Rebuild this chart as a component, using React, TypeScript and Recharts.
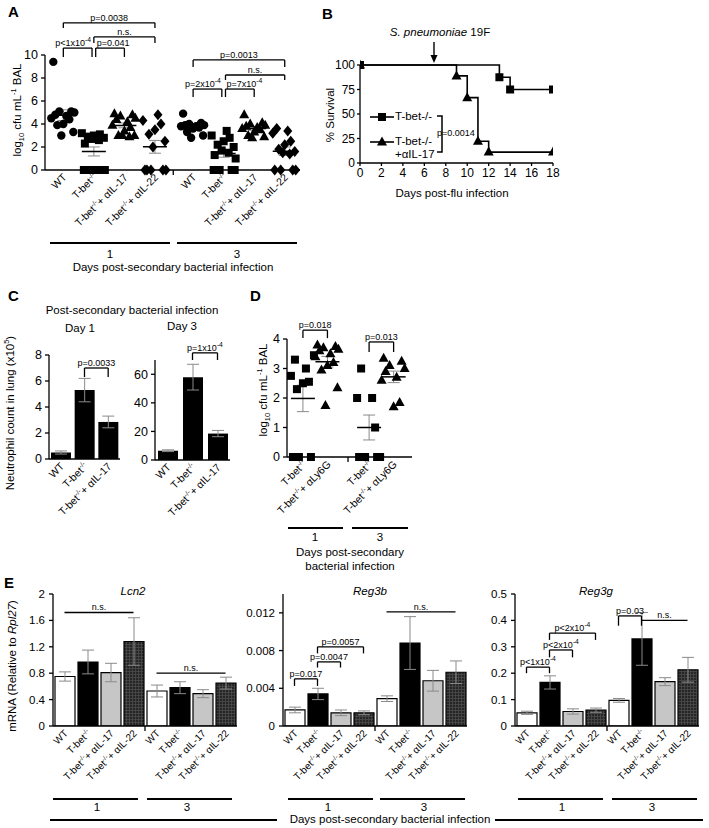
import React from 'react'
import {
  ScatterChart, Scatter, LineChart, Line, BarChart, Bar, Cell,
  XAxis, YAxis, ErrorBar, ReferenceLine,
} from 'recharts'

const FONT = '"Liberation Sans", Arial, Helvetica, sans-serif'
const AXIS = { stroke: '#000', strokeWidth: 1.3 }
const ERR = '#8a8a8a'

// ---------- A: log10 cfu per group (individual mice) ----------
const A_LABELS = ['WT', 'T-bet{-/-}', 'T-bet{-/-}+ αIL-17', 'T-bet{-/-}+ αIL-22']
const A_SHAPES = ['circle', 'square', 'triangle', 'diamond']
const A_D1_WT = [9.4, 5.1, 5.1, 5.0, 4.8, 4.7, 4.5, 4.4, 4.0, 3.9, 3.3, 3.0]
const A_D1_TBET = [0, 0, 0, 0, 0, 0, 3.2, 3.1, 3.0, 2.9, 2.8, 2.7, 2.6, 2.3]
const A_D1_IL17 = [4.9, 4.8, 4.7, 4.5, 4.4, 4.2, 3.9, 3.7, 3.4, 3.0, 3.0, 3.0, 2.9]
const A_D1_IL22 = [0, 0, 0, 0, 0, 4.8, 4.3, 4.0, 3.5, 3.1, 2.5, 2.0]
const A_D3_WT = [4.9, 4.1, 4.0, 3.9, 3.9, 3.8, 3.8, 3.7, 3.6, 3.3, 3.0, 2.8]
const A_D3_TBET = [0, 0, 0, 0, 0, 3.4, 3.0, 2.8, 2.5, 2.2, 2.0, 1.7, 1.5, 1.3, 1.0]
const A_D3_IL17 = [4.8, 4.1, 4.0, 3.9, 3.8, 3.7, 3.6, 3.5, 3.3, 3.0, 2.9, 2.8]
const A_D3_IL22 = [0, 0, 0, 0, 3.6, 3.4, 3.2, 2.5, 2.2, 1.8, 1.6, 1.5, 1.4]
const A_YTICKS = [0, 2, 4, 6, 8, 10]

// ---------- B: survival ----------
const B_DAYS_TBET = [0, 13, 14, 18]
const B_SURV_TBET = [100, 87.5, 75, 75]
const B_DAYS_IL17 = [0, 9, 10, 11, 12, 18]
const B_SURV_IL17 = [100, 88.9, 66.7, 22.2, 11.1, 11.1]
const B_XTICKS = [0, 2, 4, 6, 8, 10, 12, 14, 16, 18]
const B_YTICKS = [0, 25, 50, 75, 100]

// ---------- C: neutrophils ----------
const C_LABELS = ['WT', 'T-bet{-/-}', 'T-bet{-/-}+ αIL-17']
const C_DAY1 = [0.5, 5.3, 2.85]
const C_DAY1_ERR = [0.12, 0.9, 0.45]
const C_DAY3 = [6.5, 58, 18.5]
const C_DAY3_ERR = [0.6, 9, 2.2]

// ---------- D: neutrophil depletion ----------
const D_LABELS = ['T-bet{-/-}', 'T-bet{-/-}+ αLy6G']
const D_SHAPES = ['square', 'triangle']
const D_D1_TBET = [0, 0, 0, 3.45, 3.3, 3.0, 2.75, 2.55, 2.5, 2.3]
const D_D1_LY6G = [3.8, 3.75, 3.7, 3.65, 3.6, 3.5, 3.4, 3.2, 3.1, 2.95, 2.35, 1.75]
const D_D3_TBET = [0, 0, 0, 0, 3.0, 2.0, 2.0, 1.0]
const D_D3_LY6G = [3.35, 3.25, 3.1, 3.0, 2.9, 2.7, 2.6, 1.85, 1.7]

// ---------- E: mRNA ----------
const E_LABELS = ['WT', 'T-bet{-/-}', 'T-bet{-/-}+ αIL-17', 'T-bet{-/-}+ αIL-22']
const E_DAYS = [1, 3]
const E_LCN2 = [0.75, 0.97, 0.81, 1.28, 0.53, 0.58, 0.49, 0.65]
const E_LCN2_ERR = [0.07, 0.18, 0.14, 0.36, 0.09, 0.09, 0.06, 0.09]
const E_REG3B = [0.0017, 0.0034, 0.0014, 0.0014, 0.0029, 0.0088, 0.0048, 0.0057]
const E_REG3B_ERR = [0.0003, 0.0006, 0.0003, 0.0002, 0.0003, 0.0028, 0.0011, 0.0012]
const E_REG3G = [0.05, 0.165, 0.055, 0.06, 0.097, 0.33, 0.168, 0.213]
const E_REG3G_ERR = [0.006, 0.025, 0.01, 0.008, 0.007, 0.1, 0.015, 0.047]

// jitter (px) for dot plots
const JIT = [-10, 8, -4, 11, -8, 3, -12, 6, 0, -6, 10, -2, 5, -9, 12, 1]

const mean = (v: number[]) => v.reduce((s, x) => s + x, 0) / v.length
const sem = (v: number[]) => {
  const m = mean(v)
  return Math.sqrt(v.reduce((s, x) => s + (x - m) ** 2, 0) / (v.length - 1) / v.length)
}

// "T-bet{-/-}" -> superscript inside svg text
function richSvg(label: string, supSize: number) {
  const parts = label.split(/(\{[^}]*\})/).filter(Boolean)
  let raised = false
  return parts.map((p, i) => {
    if (p.startsWith('{')) {
      raised = true
      return <tspan key={i} fontSize={supSize} dy={-supSize * 0.6}>{p.slice(1, -1)}</tspan>
    }
    const dy = raised ? supSize * 0.6 : 0
    raised = false
    return <tspan key={i} dy={dy}>{p}</tspan>
  })
}

function marker(kind: string, x: number, y: number) {
  if (kind === 'circle') return <circle cx={x} cy={y} r={4.2} fill="#000" />
  if (kind === 'square') return <rect x={x - 4} y={y - 4} width={8} height={8} fill="#000" />
  if (kind === 'triangle') return <polygon points={`${x},${y - 5.5} ${x - 5},${y + 3.5} ${x + 5},${y + 3.5}`} fill="#000" />
  return <polygon points={`${x},${y - 5.5} ${x + 4.5},${y} ${x},${y + 5.5} ${x - 4.5},${y}`} fill="#000" />
}

const meanShape = (p: any) => (
  <line x1={p.cx - 12} x2={p.cx + 12} y1={p.cy} y2={p.cy} stroke="#000" strokeWidth={1.5} />
)

// rotated category label tick, with optional separator tick
const CatTick = (props: any) => {
  const { x, y, payload, names, sep, sepAfter, sepHalf = 11.5, fs = 10.5 } = props
  if (sep !== undefined && payload.value === sep) {
    return <line x1={x} x2={x} y1={y} y2={y + 5} stroke="#000" strokeWidth={1.3} />
  }
  const name = names(payload.value)
  const ax = x + 4
  const ay = y + 8
  return (
    <g>
      {sepAfter !== undefined && payload.value === sepAfter && (
        <line x1={x + sepHalf} x2={x + sepHalf} y1={y} y2={y + 5} stroke="#000" strokeWidth={1.3} />
      )}
      <text x={ax} y={ay} transform={`rotate(-45 ${ax} ${ay})`} textAnchor="end" fontSize={fs} fill="#000">
        {richSvg(name, fs * 0.65)}
      </text>
    </g>
  )
}

const pLabel = (text: string, fs: number, align: string) => (props: any) => {
  const vb = props.viewBox || {}
  const x0 = vb.x ?? 0
  const w = vb.width ?? 0
  const tx = align === 'end' ? x0 + w - 1 : align === 'start' ? x0 + 1 : x0 + w / 2
  return (
    <text x={tx} y={(vb.y ?? 0) - 2} textAnchor={align} fontSize={fs} fill="#000">
      {richSvg(text, fs * 0.75)}
    </text>
  )
}

function bracket(key: string, x1: any, x2: any, yTop: number, yLeg: number | null, text: string, align = 'middle', fs = 9) {
  const els = [
    <ReferenceLine key={key + 't'} segment={[{ x: x1, y: yTop }, { x: x2, y: yTop }]} stroke="#000"
      strokeWidth={1.3} ifOverflow="visible" label={pLabel(text, fs, align)} />,
  ]
  if (yLeg !== null) {
    els.push(<ReferenceLine key={key + 'l'} segment={[{ x: x1, y: yTop }, { x: x1, y: yLeg }]} stroke="#000" strokeWidth={1.3} ifOverflow="visible" />)
    els.push(<ReferenceLine key={key + 'r'} segment={[{ x: x2, y: yTop }, { x: x2, y: yLeg }]} stroke="#000" strokeWidth={1.3} ifOverflow="visible" />)
  }
  return els
}

// html overlays
const T = ({ x, y, children, size = 11.5, rot = 0, anchor = 'middle', style }: any) => {
  const tx = anchor === 'middle' ? '-50%' : anchor === 'start' ? '0' : '-100%'
  return (
    <div style={{
      position: 'absolute', left: x, top: y, transform: `translate(${tx}, -50%) rotate(${rot}deg)`,
      fontSize: size, whiteSpace: 'nowrap', lineHeight: 1, ...style,
    }}>{children}</div>
  )
}
const HL = ({ x1, x2, y, w = 1.6 }: any) => (
  <div style={{ position: 'absolute', left: x1, top: y - w / 2, width: x2 - x1, height: w, background: '#000' }} />
)
const Letter = ({ x, y, c }: any) => <T x={x} y={y} size={15} anchor="start" style={{ fontWeight: 'bold' }}>{c}</T>
const Sub = ({ children }: any) => <sub style={{ fontSize: '0.65em' }}>{children}</sub>
const Sup = ({ children }: any) => <sup style={{ fontSize: '0.65em' }}>{children}</sup>

// ---------- panel A ----------
const A_GROUPS = [A_D1_WT, A_D1_TBET, A_D1_IL17, A_D1_IL22, A_D3_WT, A_D3_TBET, A_D3_IL17, A_D3_IL22]
const A_POS = A_GROUPS.map((_, i) => (i < 4 ? 1 + i : 1.25 + i))
const A_SEP = 4.6
const NUDGE = 0.06

function PanelA() {
  return (
    <div style={{ position: 'absolute', left: 0, top: 0 }}>
      <ScatterChart width={320} height={250} margin={{ top: 55, right: 20, bottom: 5, left: 0 }}>
        <XAxis type="number" dataKey="x" domain={[0.4, 8.75]} ticks={[...A_POS, A_SEP]} interval={0}
          allowDataOverflow height={75} tickSize={0} tickMargin={0} axisLine={AXIS} tickLine={false}
          tick={<CatTick sep={A_SEP} names={(v: number) => A_LABELS[A_POS.indexOf(v) % 4]} />} />
        <YAxis type="number" dataKey="y" domain={[0, 10]} ticks={A_YTICKS} interval={0} width={45}
          axisLine={AXIS} tickLine={AXIS} tickSize={4} tickMargin={3} tick={{ fontSize: 12.5, fill: '#000' }} />
        {A_GROUPS.map((vals, g) => (
          <Scatter key={g} data={vals.map((y, i) => ({ x: A_POS[g], y, i }))} isAnimationActive={false}
            shape={(p: any) => marker(A_SHAPES[g % 4], p.cx + JIT[p.payload.i % JIT.length], p.cy)} />
        ))}
        <Scatter data={A_GROUPS.map((v, g) => ({ x: A_POS[g], y: mean(v), e: sem(v) }))} shape={meanShape} isAnimationActive={false}>
          <ErrorBar dataKey="e" direction="y" width={6} stroke={ERR} strokeWidth={1} />
        </Scatter>
        {bracket('a1', A_POS[0], A_POS[3], 12.8, 12.35, 'p=0.0038')}
        {bracket('a2', A_POS[1], A_POS[3], 11.57, 11.04, 'n.s.')}
        {bracket('a3', A_POS[0], A_POS[1] - NUDGE, 10.6, 9.83, 'p<1x10{-4}', 'end')}
        {bracket('a4', A_POS[1] + NUDGE, A_POS[2], 10.6, 9.83, 'p=0.041', 'start')}
        {bracket('a5', A_POS[4], A_POS[7], 9.57, 8.96, 'p=0.0013')}
        {bracket('a6', A_POS[5] + NUDGE, A_POS[7], 8.26, 7.83, 'n.s.')}
        {bracket('a7', A_POS[4], A_POS[5] - NUDGE, 7.04, 6.35, 'p=2x10{-4}', 'end')}
        {bracket('a8', A_POS[5] + NUDGE, A_POS[6], 7.04, 6.35, 'p=7x10{-4}', 'start')}
      </ScatterChart>
    </div>
  )
}

// ---------- panel B ----------
const B_TBET_ROWS = B_DAYS_TBET.map((x, i) => ({ x, y: B_SURV_TBET[i] }))
const B_IL17_ROWS = B_DAYS_IL17.map((x, i) => ({ x, y: B_SURV_IL17[i] }))

function PanelB() {
  return (
    <div style={{ position: 'absolute', left: 320, top: 0 }}>
      <LineChart width={260} height={210} margin={{ top: 65, right: 27, bottom: 17, left: 0 }}>
        <XAxis type="number" dataKey="x" domain={[0, 18]} ticks={B_XTICKS} interval={0} allowDataOverflow height={30}
          axisLine={AXIS} tickLine={AXIS} tickSize={3} tickMargin={2} tick={{ fontSize: 12, fill: '#000' }} />
        <YAxis type="number" domain={[0, 100]} ticks={B_YTICKS} interval={0} width={40}
          axisLine={AXIS} tickLine={AXIS} tickSize={3} tickMargin={2} tick={{ fontSize: 12, fill: '#000' }} />
        <Line data={B_IL17_ROWS} dataKey="y" type="stepAfter" stroke="#000" strokeWidth={1.6} isAnimationActive={false}
          dot={(p: any) => <g key={'t' + p.index}>{marker('triangle', p.cx, p.cy)}</g>} />
        <Line data={B_TBET_ROWS} dataKey="y" type="stepAfter" stroke="#000" strokeWidth={1.6} isAnimationActive={false}
          dot={(p: any) => <g key={'s' + p.index}>{marker('square', p.cx, p.cy)}</g>} />
      </LineChart>
    </div>
  )
}

// ---------- panel C ----------
const C1_ROWS = C_DAY1.map((v, i) => ({ k: 'c1-' + i, v, e: C_DAY1_ERR[i] }))
const C3_ROWS = C_DAY3.map((v, i) => ({ k: 'c3-' + i, v, e: C_DAY3_ERR[i] }))
const idxOf = (k: string) => Number(k.split('-')[1])

function PanelC() {
  const xa = (
    <XAxis dataKey="k" height={78} tickSize={0} tickMargin={0} axisLine={AXIS} tickLine={false} interval={0}
      tick={<CatTick names={(k: string) => C_LABELS[idxOf(k)]} />} />
  )
  return (
    <>
      <div style={{ position: 'absolute', left: 0, top: 280 }}>
        <BarChart width={130} height={260} data={C1_ROWS} margin={{ top: 75, right: 10, bottom: 3, left: 0 }}>
          {xa}
          <YAxis domain={[0, 8]} ticks={[0, 2, 4, 6, 8]} interval={0} width={49} axisLine={AXIS} tickLine={AXIS}
            tickSize={4} tickMargin={3} tick={{ fontSize: 12.5, fill: '#000' }} />
          <Bar dataKey="v" fill="#000" barSize={20} isAnimationActive={false}>
            <ErrorBar dataKey="e" width={6} stroke={ERR} strokeWidth={1} />
          </Bar>
          {bracket('c1', 'c1-1', 'c1-2', 7.0, 6.3, 'p=0.0033')}
        </BarChart>
      </div>
      <div style={{ position: 'absolute', left: 120, top: 280 }}>
        <BarChart width={120} height={260} data={C3_ROWS} margin={{ top: 80, right: 10, bottom: 2, left: 0 }}>
          {xa}
          <YAxis domain={[0, 70]} ticks={[0, 20, 40, 60]} interval={0} width={35} axisLine={AXIS} tickLine={AXIS}
            tickSize={4} tickMargin={3} tick={{ fontSize: 12.5, fill: '#000' }} />
          <Bar dataKey="v" fill="#000" barSize={20} isAnimationActive={false}>
            <ErrorBar dataKey="e" width={6} stroke={ERR} strokeWidth={1} />
          </Bar>
          {bracket('c3', 'c3-1', 'c3-2', 75, 70, 'p=1x10{-4}')}
        </BarChart>
      </div>
    </>
  )
}

// ---------- panel D ----------
const D_GROUPS = [D_D1_TBET, D_D1_LY6G, D_D3_TBET, D_D3_LY6G]
const D_POS = D_GROUPS.map((_, i) => (i < 2 ? 1 + i : 1.7 + i))
const D_SEP = 2.84

function PanelD() {
  return (
    <div style={{ position: 'absolute', left: 240, top: 280 }}>
      <ScatterChart width={185} height={250} margin={{ top: 59, right: 13, bottom: 3, left: 0 }}>
        <XAxis type="number" dataKey="x" domain={[0.35, 5.45]} ticks={[...D_POS, D_SEP]} interval={0}
          allowDataOverflow height={70} tickSize={0} tickMargin={0} axisLine={AXIS} tickLine={false}
          tick={<CatTick sep={D_SEP} names={(v: number) => D_LABELS[D_POS.indexOf(v) % 2]} />} />
        <YAxis type="number" dataKey="y" domain={[0, 4]} ticks={[0, 1, 2, 3, 4]} interval={0} width={47}
          axisLine={AXIS} tickLine={AXIS} tickSize={4} tickMargin={3} tick={{ fontSize: 12.5, fill: '#000' }} />
        {D_GROUPS.map((vals, g) => (
          <Scatter key={g} data={vals.map((y, i) => ({ x: D_POS[g], y, i }))} isAnimationActive={false}
            shape={(p: any) => marker(D_SHAPES[g % 2], p.cx + JIT[p.payload.i % JIT.length], p.cy)} />
        ))}
        <Scatter data={D_GROUPS.map((v, g) => ({ x: D_POS[g], y: mean(v), e: sem(v) }))} shape={meanShape} isAnimationActive={false}>
          <ErrorBar dataKey="e" direction="y" width={6} stroke={ERR} strokeWidth={1} />
        </Scatter>
        {bracket('d1', D_POS[0], D_POS[1], 4.3, 4.03, 'p=0.018')}
        {bracket('d2', D_POS[2], D_POS[3], 3.9, 3.56, 'p=0.013')}
      </ScatterChart>
    </div>
  )
}

// ---------- panel E ----------
const E_KEYS = E_DAYS.flatMap((d) => E_LABELS.map((_, i) => `${d}-${i}`))
const E_FILLS = ['#ffffff', '#000000', '#c6c6c6', 'PAT']

function GeneChart({ left, id, vals, errs, domain, ticks, yw, children }: any) {
  const rows = E_KEYS.map((k, i) => ({ k, v: vals[i], e: errs[i] }))
  const pid = 'chk-' + id
  const w = Math.min(245, 709 - left)
  return (
    <div style={{ position: 'absolute', left, top: 560 }}>
      <BarChart width={w} height={250} data={rows}
        margin={{ top: 34, right: w - yw - 184, bottom: 4, left: 0 }}>
        <defs>
          <pattern id={pid} width="3" height="3" patternUnits="userSpaceOnUse">
            <rect width="3" height="3" fill="#262626" />
            <path d="M0 0.5 H3 M0.5 0 V3" stroke="#4a4a4a" strokeWidth="0.8" />
          </pattern>
        </defs>
        <XAxis dataKey="k" height={80} tickSize={0} tickMargin={0} axisLine={AXIS} tickLine={false} interval={0}
          tick={<CatTick sepAfter="1-3" sepHalf={11.5} fs={10} names={(k: string) => E_LABELS[idxOf(k)]} />} />
        <YAxis domain={domain} ticks={ticks} interval={0} width={yw} axisLine={AXIS} tickLine={AXIS}
          tickSize={4} tickMargin={4} tick={{ fontSize: 11.5, fill: '#000' }} allowDataOverflow />
        <Bar dataKey="v" barSize={20} stroke="#000" strokeWidth={1.2} isAnimationActive={false}>
          {rows.map((r, i) => (
            <Cell key={r.k} fill={E_FILLS[i % 4] === 'PAT' ? `url(#${pid})` : E_FILLS[i % 4]} />
          ))}
          <ErrorBar dataKey="e" width={6} stroke={ERR} strokeWidth={1} />
        </Bar>
        {children}
      </BarChart>
    </div>
  )
}

function PanelE() {
  return (
    <>
      <GeneChart left={0} id="lcn2" vals={E_LCN2} errs={E_LCN2_ERR} domain={[0, 2]} ticks={[0, 0.4, 0.8, 1.2, 1.6, 2]} yw={53}>
        {bracket('e1', '1-0', '1-3', 1.72, null, 'n.s.')}
        {bracket('e2', '3-0', '3-3', 0.8, null, 'n.s.')}
      </GeneChart>
      <GeneChart left={230} id="reg3b" vals={E_REG3B} errs={E_REG3B_ERR} domain={[0, 0.014]} ticks={[0, 0.004, 0.008, 0.012]} yw={53}>
        {bracket('e3', '1-0', '1-1', 0.005, 0.00425, 'p=0.017')}
        {bracket('e4', '1-1', '1-2', 0.0068, 0.0062, 'p=0.0047')}
        {bracket('e5', '1-1', '1-3', 0.0084, 0.0077, 'p=0.0057')}
        {bracket('e6', '3-0', '3-3', 0.0121, null, 'n.s.')}
      </GeneChart>
      <GeneChart left={465} id="reg3g" vals={E_REG3G} errs={E_REG3G_ERR} domain={[0, 0.5]} ticks={[0, 0.1, 0.2, 0.3, 0.4, 0.5]} yw={50}>
        {bracket('e7', '1-0', '1-1', 0.223, 0.2, 'p<1x10{-4}')}
        {bracket('e8', '1-1', '1-2', 0.288, 0.26, 'p<2x10{-4}')}
        {bracket('e9', '1-1', '1-3', 0.352, 0.326, 'p<2x10{-4}')}
        {bracket('e10', '3-0', '3-1', 0.417, 0.38, 'p=0.03')}
        {bracket('e11', '3-1', '3-3', 0.4, null, 'n.s.', 'middle')}
      </GeneChart>
    </>
  )
}

export default function App() {
  return (
    <div style={{ position: 'absolute', left: 0, top: 0, width: 709, height: 828, background: '#fff', fontFamily: FONT, color: '#000', overflow: 'hidden' }}>
      <PanelA />
      <PanelB />
      <PanelC />
      <PanelD />
      <PanelE />

      {/* A annotations */}
      <Letter x={8} y={11} c="A" />
      <T x={18} y={110} rot={-90}>log<Sub>10</Sub> cfu mL<Sup>-1</Sup> BAL</T>
      <HL x1={50} x2={170} y={243} />
      <HL x1={177} x2={297} y={243} />
      <T x={110} y={255}>1</T>
      <T x={237} y={255}>3</T>
      <T x={173} y={268}>Days post-secondary bacterial infection</T>

      {/* B annotations */}
      <Letter x={322} y={13} c="B" />
      <T x={440} y={33}><i>S. pneumoniae</i> 19F</T>
      <svg style={{ position: 'absolute', left: 428, top: 40 }} width={14} height={26}>
        <line x1={6} x2={6} y1={2} y2={18} stroke="#000" strokeWidth={1.4} />
        <polygon points="2.5,15 9.5,15 6,23" fill="#000" />
      </svg>
      <T x={331} y={115} rot={-90}>% Survival</T>
      <T x={452} y={194}>Days post-flu infection</T>
      <svg style={{ position: 'absolute', left: 360, top: 100 }} width={130} height={70}>
        <line x1={10} x2={34} y1={17} y2={17} stroke="#000" strokeWidth={1.6} />
        {marker('square', 22, 17)}
        <line x1={10} x2={34} y1={42} y2={42} stroke="#000" strokeWidth={1.6} />
        {marker('triangle', 22, 42)}
        <path d="M77 16 H82 V52 H77" fill="none" stroke="#000" strokeWidth={1.5} />
      </svg>
      <T x={395} y={117} anchor="start">T-bet-/-</T>
      <T x={395} y={142} anchor="start">T-bet-/-</T>
      <T x={395} y={155} anchor="start">+αIL-17</T>
      <T x={437} y={133} anchor="start" size={9}>p=0.0014</T>

      {/* C annotations */}
      <Letter x={8} y={295} c="C" />
      <T x={132} y={311}>Post-secondary bacterial infection</T>
      <T x={80} y={329}>Day 1</T>
      <T x={182} y={327}>Day 3</T>
      <T x={10} y={413} rot={-90}>Neutrophil count in lung (x10<Sup>5</Sup>)</T>

      {/* D annotations */}
      <Letter x={250} y={295} c="D" />
      <T x={264} y={390} rot={-90}>log<Sub>10</Sub> cfu mL<Sup>-1</Sup> BAL</T>
      <HL x1={288} x2={343} y={528} />
      <HL x1={352} x2={408} y={528} />
      <T x={315} y={538}>1</T>
      <T x={380} y={538}>3</T>
      <T x={350} y={553}>Days post-secondary</T>
      <T x={350} y={567}>bacterial infection</T>

      {/* E annotations */}
      <Letter x={4} y={582} c="E" />
      <T x={13} y={666} rot={-90}>mRNA (Relative to <i>Rpl27</i>)</T>
      <T x={133} y={592}><i>Lcn2</i></T>
      <T x={370} y={592}><i>Reg3b</i></T>
      <T x={596} y={592}><i>Reg3g</i></T>
      <HL x1={53} x2={138} y={799} />
      <HL x1={147} x2={232} y={799} />
      <T x={97} y={808}>1</T>
      <T x={187} y={808}>3</T>
      <HL x1={288} x2={373} y={799} />
      <HL x1={380} x2={465} y={799} />
      <T x={328} y={808}>1</T>
      <T x={424} y={808}>3</T>
      <HL x1={518} x2={603} y={799} />
      <HL x1={612} x2={697} y={799} />
      <T x={562} y={808}>1</T>
      <T x={652} y={808}>3</T>
      <HL x1={50} x2={277} y={820} />
      <HL x1={495} x2={703} y={820} />
      <T x={390} y={820}>Days post-secondary bacterial infection</T>
    </div>
  )
}
